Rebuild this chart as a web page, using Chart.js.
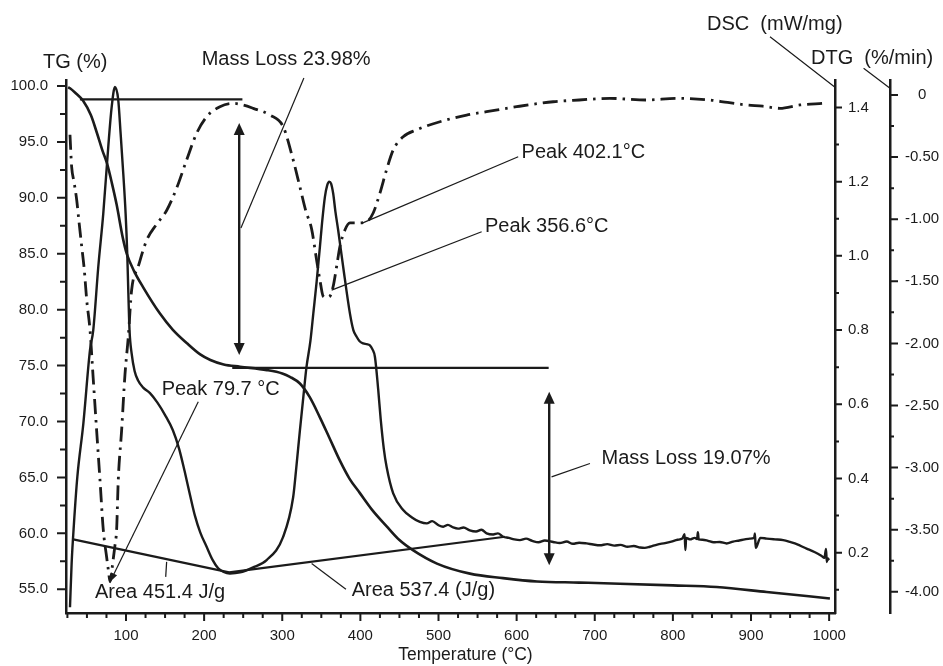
<!DOCTYPE html>
<html>
<head>
<meta charset="utf-8">
<title>TG / DSC / DTG</title>
<script src="https://cdn.jsdelivr.net/npm/chart.js@4.4.1/dist/chart.umd.min.js"></script>
<style>
  html, body { margin: 0; padding: 0; background: #fff; }
  canvas { display: block; }
</style>
</head>
<body>
<canvas id="myChart" width="943" height="666"></canvas>
<script>
// values (temperature in °C)
const tgTemp = [26, 28.3, 35, 44.9, 55, 62.8, 70, 75.6, 82, 88,
  96, 101, 110, 122, 143, 160, 178, 195, 208, 225,
  246, 280.4, 300, 309.8, 322.6, 335, 348, 360, 373.8, 386,
  399.4, 415, 434, 450, 467.2, 498, 540.2, 582.5, 626, 680,
  732, 800, 856, 920, 1001];
const tgValues = [99.9, 99.8, 99.4, 98.7, 97.4, 95.8, 94.2, 93.1, 91.3, 89.4,
  86.4, 85.0, 83.5, 82.0, 79.7, 78.2, 77.0, 76.0, 75.5, 75.1,
  74.9, 74.6, 74.3, 74.0, 73.4, 72.2, 70.4, 68.6, 66.5, 64.9,
  63.6, 62.1, 60.6, 59.4, 58.5, 57.3, 56.4, 56.0, 55.7, 55.6,
  55.5, 55.35, 55.2, 54.76, 54.18];

const dscTemp = [28.3, 30.4, 33.4, 37.7, 45.4, 53.9, 58.1, 64.5, 70.9, 77.3,
  81.6, 85.9, 90.1, 93.1, 96.5, 99.5, 101.6, 103, 104.5, 107.2,
  111, 115.3, 122, 130.7, 140, 150, 160, 168, 175, 182,
  188.2, 195, 203.2, 211, 218,
  225, 233, 246, 262, 280, 301, 314, 318, 322.6, 327,
  331, 336, 340, 344, 348.2, 351, 354.6, 357.5, 360.1, 362.5,
  365.2, 368, 371.6, 378, 386.6, 391, 395.2, 399, 403.7, 408,
  412.2, 415.5, 418.6, 422.8, 426, 430, 433.6, 442, 454.8, 466,
  476.2, 485, 492, 500, 506, 512, 518.8, 525, 532, 540,
  548, 555, 561.6, 570, 576, 582.8, 590, 597, 604.2, 612,
  620, 628, 636, 646.8, 655, 664, 672, 680, 689.5, 698,
  706.5, 716, 725, 733, 742, 750, 758, 764, 770.5, 780,
  790, 798, 806, 812, 815, 816, 817, 822, 828, 831,
  832, 833, 838, 845, 852, 860, 868.8, 877, 885, 892,
  898.6, 904, 905, 906, 912, 920, 930, 941.2, 950, 960,
  966, 971.1, 978, 985, 990, 994, 996, 997, 998, 1000];
const dscValues = [0.053, 0.171, 0.279, 0.404, 0.548, 0.746, 0.80, 0.97, 1.114, 1.294,
  1.40, 1.455, 1.42, 1.33, 1.222, 1.114, 1.006, 0.90, 0.80, 0.737,
  0.69, 0.665, 0.645, 0.63, 0.605, 0.571, 0.53, 0.48, 0.42, 0.355,
  0.30, 0.255, 0.216, 0.18, 0.158,
  0.148, 0.144, 0.147, 0.160, 0.18, 0.242, 0.35, 0.43, 0.53, 0.62,
  0.70, 0.77, 0.85, 0.93, 1.024, 1.09, 1.159, 1.19, 1.20, 1.195,
  1.168, 1.12, 1.069, 0.97, 0.845, 0.80, 0.782, 0.77, 0.764, 0.762,
  0.759, 0.748, 0.728, 0.64, 0.56, 0.48, 0.431, 0.36, 0.315, 0.295,
  0.283, 0.279, 0.285, 0.274, 0.27, 0.275, 0.268, 0.265, 0.268, 0.26,
  0.257, 0.262, 0.252, 0.249, 0.252, 0.243, 0.24, 0.236, 0.234, 0.238,
  0.232, 0.228, 0.233, 0.229, 0.226, 0.23, 0.224, 0.227, 0.225, 0.222,
  0.22, 0.223, 0.219, 0.221, 0.216, 0.218, 0.214, 0.213, 0.216, 0.222,
  0.226, 0.23, 0.235, 0.238, 0.25, 0.207, 0.24, 0.236, 0.24, 0.237,
  0.255, 0.236, 0.235, 0.232, 0.228, 0.229, 0.225, 0.23, 0.233, 0.236,
  0.238, 0.24, 0.252, 0.213, 0.24, 0.238, 0.236, 0.234, 0.229, 0.222,
  0.216, 0.211, 0.205, 0.198, 0.192, 0.186, 0.21, 0.175, 0.185, 0.18];

const dtgTemp = [28.3, 30.4, 33.5, 36.9, 40, 43.3, 46.5, 49.7, 53.9, 58,
  62.4, 66.7, 70.9, 75.2, 77.3, 79.7, 82, 84, 86, 88,
  90.1, 94.4, 98.7, 102.9, 107.2, 115.7, 126.4, 139.2, 152, 164.8,
  177.6, 190.4, 203.2, 220.2, 237.3, 250, 262.9, 284.2, 301.2, 314,
  322.6, 330, 337.6, 344, 349, 352.4, 356.6, 361, 365.2, 369.6,
  373.8, 380.2, 386.6, 397.2, 408, 416.4, 425, 433.6, 442, 454.8,
  472, 501.8, 536, 561.6, 600, 646.8, 680, 719.4, 766.3, 804.7,
  847.3, 870, 894.3, 915, 937, 962.5, 992.3];
const dtgValues = [-0.32, -0.577, -0.70, -0.845, -1.03, -1.22, -1.40, -1.65, -1.89, -2.28,
  -2.70, -3.10, -3.50, -3.72, -3.82, -3.92, -3.82, -3.72, -3.62, -3.50,
  -3.10, -2.70, -2.25, -1.95, -1.57, -1.38, -1.17, -1.04, -0.93, -0.75,
  -0.523, -0.308, -0.175, -0.094, -0.067, -0.08, -0.107, -0.161, -0.255, -0.523,
  -0.74, -0.93, -1.08, -1.33, -1.52, -1.62, -1.63, -1.62, -1.54, -1.38,
  -1.22, -1.087, -1.03, -1.03, -1.02, -0.95, -0.79, -0.60, -0.443, -0.336,
  -0.28, -0.215, -0.161, -0.134, -0.094, -0.054, -0.04, -0.027, -0.04, -0.027,
  -0.04, -0.06, -0.08, -0.09, -0.107, -0.08, -0.067];

// mass loss steps (TG) and DSC integration baselines
const step1Temp = [41, 249];
const step1Tg = [98.8, 98.8];
const step2Temp = [236, 641];
const step2Tg = [74.8, 74.8];
const base1Temp = [32.5, 232];
const base1Dsc = [0.236, 0.147];
const base2Temp = [232, 585];
const base2Dsc = [0.147, 0.243];

// tick labels
const tempTicks = [100, 200, 300, 400, 500, 600, 700, 800, 900, 1000];
const tgTicks = [55, 60, 65, 70, 75, 80, 85, 90, 95, 100];
const dscTicks = [0.2, 0.4, 0.6, 0.8, 1.0, 1.2, 1.4];
const dtgTicks = [0, -0.5, -1, -1.5, -2, -2.5, -3, -3.5, -4];

const ink = "#1b1b1b";
const family = '"Liberation Sans", Arial, Helvetica, sans-serif';
Chart.defaults.font.family = family;
Chart.defaults.color = ink;

function toPoints(xs, ys) {
  return xs.map((x, i) => ({ x: x, y: ys[i] }));
}
function near(list, v) {
  return list.some(t => Math.abs(t - v) < 1e-6);
}
function range(from, to, step) {
  const out = [];
  for (let v = from; v <= to + 1e-9; v += step) out.push(Math.round(v * 1000) / 1000);
  return out;
}

const xMinor = range(25, 1000, 25).filter(v => !near(tempTicks, v));
const tgMinor = range(57.5, 97.5, 5);
const dscMinor = range(0.1, 1.3, 0.2);
const dtgMinor = range(-3.75, -0.25, 0.5);

function tickMarks(c, scale, values, len, side) {
  c.beginPath();
  values.forEach(v => {
    const p = scale.getPixelForValue(v);
    if (side === "down") { c.moveTo(p, scale.top); c.lineTo(p, scale.top + len); }
    else if (side === "left") { c.moveTo(scale.right, p); c.lineTo(scale.right - len, p); }
    else { c.moveTo(scale.left, p); c.lineTo(scale.left + len, p); }
  });
  c.stroke();
}

function arrowHead(c, x1, y1, x2, y2, len, half) {
  const a = Math.atan2(y2 - y1, x2 - x1);
  const ca = Math.cos(a), sa = Math.sin(a);
  c.beginPath();
  c.moveTo(x2, y2);
  c.lineTo(x2 - len * ca + half * sa, y2 - len * sa - half * ca);
  c.lineTo(x2 - len * ca - half * sa, y2 - len * sa + half * ca);
  c.closePath();
  c.fill();
}

// annotations in data units (temperature, TG %)
const massArrows = [[244.9, 96.69, 75.94], [641.7, 72.66, 57.16]];
const pointers = [
  [327.7, 100.72, 247.1, 87.3, false],
  [602.0, 93.68, 401.6, 87.72, false],
  [555.2, 86.97, 363.2, 81.75, false],
  [192.5, 71.76, 79.5, 55.66, true],
  [693.8, 66.25, 644.7, 65.05, false],
  [152.0, 57.45, 150.8, 56.11, false],
  [337.6, 57.31, 381.5, 55.0, false]
];
const notes = [
  ["Mass Loss 23.98%", 196.8, 102.33],
  ["Peak 402.1°C", 606.3, 94.1],
  ["Peak 356.6°C", 559.4, 87.48],
  ["Peak 79.7 °C", 145.6, 72.83],
  ["Area 451.4 J/g", 60.3, 54.74],
  ["Area 537.4 (J/g)", 388.8, 54.92],
  ["Mass Loss 19.07%", 708.7, 66.73]
];

const thermoDecor = {
  id: "thermoDecor",
  afterDraw(chart) {
    const c = chart.ctx;
    const sx = chart.scales.x, sy = chart.scales.y, sd = chart.scales.y1, sg = chart.scales.y2;
    const top = chart.chartArea.top;
    c.save();
    c.strokeStyle = ink;
    c.fillStyle = ink;
    c.lineWidth = 2;

    // axis ticks
    tickMarks(c, sx, tempTicks, 8, "down");
    tickMarks(c, sx, xMinor, 5, "down");
    tickMarks(c, sy, tgTicks, 9, "left");
    tickMarks(c, sy, tgMinor, 6, "left");
    tickMarks(c, sd, dscTicks, 7, "right");
    tickMarks(c, sd, dscMinor, 4, "right");
    tickMarks(c, sg, dtgTicks, 8, "right");
    tickMarks(c, sg, dtgMinor, 4, "right");

    // double arrows for the mass loss steps
    c.lineWidth = 2.4;
    massArrows.forEach(a => {
      const px = sx.getPixelForValue(a[0]);
      const y1 = sy.getPixelForValue(a[1]), y2 = sy.getPixelForValue(a[2]);
      c.beginPath();
      c.moveTo(px, y1 + 8);
      c.lineTo(px, y2 - 8);
      c.stroke();
      arrowHead(c, px, y2, px, y1, 12, 5.5);
      arrowHead(c, px, y1, px, y2, 12, 5.5);
    });

    // thin leader lines
    c.lineWidth = 1.2;
    pointers.forEach(p => {
      const x1 = sx.getPixelForValue(p[0]), y1 = sy.getPixelForValue(p[1]);
      const x2 = sx.getPixelForValue(p[2]), y2 = sy.getPixelForValue(p[3]);
      c.beginPath();
      c.moveTo(x1, y1);
      c.lineTo(x2, y2);
      c.stroke();
      if (p[4]) arrowHead(c, x1, y1, x2, y2, 9, 3.5);
    });

    // axis title leaders
    c.beginPath();
    c.moveTo(sd.left - 65, top - 43.3);
    c.lineTo(sd.left, top + 7.3);
    c.moveTo(sg.left - 26.4, top - 11.7);
    c.lineTo(sg.left, top + 8.3);
    c.stroke();

    // texts
    c.font = "20px " + family;
    c.textBaseline = "middle";
    c.textAlign = "left";
    notes.forEach(n => {
      c.fillText(n[0], sx.getPixelForValue(n[1]), sy.getPixelForValue(n[2]));
    });
    c.fillText("TG (%)", sy.right - 23, top - 18);
    c.fillText("DSC  (mW/mg)", sd.left - 128, top - 56);
    c.fillText("DTG  (%/min)", sg.left - 79, top - 22);

    c.font = "17.5px " + family;
    c.textAlign = "center";
    c.fillText("Temperature (°C)", (sx.left + sx.right) / 2 + 15, sx.top + 42);
    c.restore();
  }
};

function lineSet(points, axis, width, dash) {
  return {
    data: points,
    yAxisID: axis,
    borderColor: ink,
    borderWidth: width,
    borderDash: dash || [],
    pointRadius: 0,
    fill: false,
    cubicInterpolationMode: "monotone"
  };
}

const ctx = document.getElementById("myChart").getContext("2d");

const config = {
  type: "line",
  data: {
    datasets: [
      lineSet(toPoints(tgTemp, tgValues), "y", 2.6),
      lineSet(toPoints(dscTemp, dscValues), "y1", 2.4),
      lineSet(toPoints(dtgTemp, dtgValues), "y2", 2.8, [15, 6, 2.5, 6]),
      lineSet(toPoints(step1Temp, step1Tg), "y", 2.2),
      lineSet(toPoints(step2Temp, step2Tg), "y", 2.2),
      lineSet(toPoints(base1Temp, base1Dsc), "y1", 2.2),
      lineSet(toPoints(base2Temp, base2Dsc), "y1", 2.2)
    ]
  },
  options: {
    responsive: false,
    animation: false,
    devicePixelRatio: 1,
    layout: { padding: { top: 80, left: 0, right: 0, bottom: 0 } },
    plugins: { legend: { display: false }, tooltip: { enabled: false } },
    scales: {
      x: {
        type: "linear",
        position: "bottom",
        min: 23.2,
        max: 1007.5,
        afterBuildTicks: s => { s.ticks = tempTicks.map(v => ({ value: v })); },
        afterFit: s => { s.height = 53; },
        grid: { drawOnChartArea: false, drawTicks: true, tickLength: 8, color: "rgba(0,0,0,0)" },
        border: { display: true, color: ink, width: 2.5 },
        ticks: { autoSkip: false, maxRotation: 0, padding: 6, font: { size: 15 }, color: ink,
          callback: v => String(v) }
      },
      y: {
        type: "linear",
        position: "left",
        min: 52.88,
        max: 100.54,
        afterBuildTicks: s => { s.ticks = tgTicks.map(v => ({ value: v })); },
        afterFit: s => { s.width = 66; },
        grid: { drawOnChartArea: false, drawTicks: true, tickLength: 9, color: "rgba(0,0,0,0)" },
        border: { display: true, color: ink, width: 2.5 },
        ticks: { autoSkip: false, padding: 9, font: { size: 15 }, color: ink,
          callback: v => Number(v).toFixed(1) }
      },
      y1: {
        type: "linear",
        position: "right",
        weight: 0,
        min: 0.0375,
        max: 1.474,
        afterBuildTicks: s => { s.ticks = dscTicks.map(v => ({ value: v })); },
        afterFit: s => { s.width = 55; },
        grid: { drawOnChartArea: false, drawTicks: true, tickLength: 7, color: "rgba(0,0,0,0)" },
        border: { display: true, color: ink, width: 2.5 },
        ticks: { autoSkip: false, padding: 6, font: { size: 15 }, color: ink,
          callback: v => Number(v).toFixed(1) }
      },
      y2: {
        type: "linear",
        position: "right",
        weight: 1,
        min: -4.171,
        max: 0.121,
        afterBuildTicks: s => { s.ticks = dtgTicks.map(v => ({ value: v })); },
        afterFit: s => { s.width = 53; },
        grid: { drawOnChartArea: false, drawTicks: true, tickLength: 8, color: "rgba(0,0,0,0)" },
        border: { display: true, color: ink, width: 2.5 },
        ticks: { autoSkip: false, padding: 7, crossAlign: "center", font: { size: 15 }, color: ink,
          callback: v => (v === 0 ? "0" : Number(v).toFixed(2)) }
      }
    }
  },
  plugins: [thermoDecor]
};

const myChart = new Chart(ctx, config);
</script>
</body>
</html>
